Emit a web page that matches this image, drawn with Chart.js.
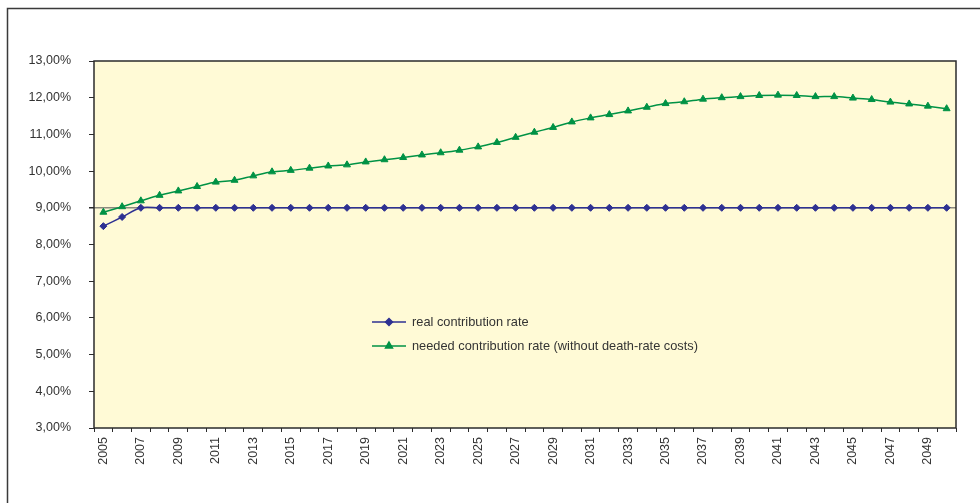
<!DOCTYPE html>
<html>
<head>
<meta charset="utf-8">
<script src="https://cdn.jsdelivr.net/npm/chart.js@4.4.1/dist/chart.umd.min.js"></script>
<style>
  html, body { margin: 0; padding: 0; background: #ffffff; }
  #wrap { position: relative; width: 980px; height: 503px; }
  canvas { display: block; }
</style>
</head>
<body>
<div id="wrap"><canvas id="c" width="980" height="503"></canvas></div>
<script>
// ---- data ----
const years = [2005,2006,2007,2008,2009,2010,2011,2012,2013,2014,2015,2016,2017,2018,2019,2020,2021,2022,2023,2024,2025,2026,2027,2028,2029,2030,2031,2032,2033,2034,2035,2036,2037,2038,2039,2040,2041,2042,2043,2044,2045,2046,2047,2048,2049,2050];
const realRate = [8.50,8.75,9.00,9.00,9.00,9.00,9.00,9.00,9.00,9.00,9.00,9.00,9.00,9.00,9.00,9.00,9.00,9.00,9.00,9.00,9.00,9.00,9.00,9.00,9.00,9.00,9.00,9.00,9.00,9.00,9.00,9.00,9.00,9.00,9.00,9.00,9.00,9.00,9.00,9.00,9.00,9.00,9.00,9.00,9.00,9.00];
const neededRate = [8.88,9.03,9.19,9.34,9.46,9.58,9.70,9.75,9.87,9.98,10.02,10.08,10.14,10.17,10.25,10.31,10.37,10.44,10.50,10.57,10.66,10.78,10.92,11.06,11.19,11.34,11.45,11.54,11.64,11.74,11.84,11.89,11.96,12.00,12.03,12.06,12.07,12.06,12.03,12.03,11.99,11.95,11.88,11.83,11.77,11.70];
const seriesNames = ['real contribution rate', 'needed contribution rate (without death-rate costs)'];
const yTicks = { min: 3, max: 13, step: 1 };
const refLine = 9;

const FONT = '"Liberation Sans", Arial, sans-serif';
const TXT = '#333333';
const BLUE = '#2e3192';
const GREEN = '#009245';

const framePlugin = {
  id: 'frame',
  beforeDraw(chart) {
    const { ctx, chartArea: a } = chart;
    ctx.save();
    ctx.fillStyle = '#fffad6';
    ctx.fillRect(a.left, a.top, a.right - a.left, a.bottom - a.top);
    // outer frame
    ctx.strokeStyle = '#3a3a3a';
    ctx.lineWidth = 1.5;
    ctx.beginPath();
    ctx.moveTo(7.5, 503);
    ctx.lineTo(7.5, 8.5);
    ctx.lineTo(980, 8.5);
    ctx.stroke();
    ctx.restore();
  },
  afterDraw(chart) {
    const { ctx, chartArea: a } = chart;
    ctx.save();
    ctx.strokeStyle = '#2b2b2b';
    ctx.lineWidth = 1.5;
    ctx.strokeRect(a.left, a.top, a.right - a.left, a.bottom - a.top);
    // legend inside the plot
    const rows = [
      { y: 322, color: BLUE, style: 'rectRot', r: 3.5 },
      { y: 346, color: GREEN, style: 'triangle', r: 4 }
    ];
    ctx.font = '12.8px ' + FONT;
    ctx.textBaseline = 'middle';
    ctx.textAlign = 'left';
    rows.forEach((row, i) => {
      ctx.strokeStyle = row.color;
      ctx.lineWidth = 1.5;
      ctx.beginPath();
      ctx.moveTo(372, row.y);
      ctx.lineTo(406, row.y);
      ctx.stroke();
      ctx.fillStyle = row.color;
      ctx.beginPath();
      Chart.helpers.drawPoint(ctx, { pointStyle: row.style, radius: row.r, borderWidth: 1 }, 389, row.y);
      ctx.fillStyle = TXT;
      ctx.fillText(chart.data.datasets[i].label, 412, row.y);
    });
    ctx.restore();
  }
};

new Chart(document.getElementById('c'), {
  type: 'line',
  data: {
    labels: years.map(String),
    datasets: [
      {
        label: seriesNames[0],
        data: realRate,
        borderColor: BLUE,
        backgroundColor: BLUE,
        borderWidth: 1.5,
        pointStyle: 'rectRot',
        pointRadius: 3.5,
        pointBorderWidth: 1,
        tension: 0.3,
        fill: false
      },
      {
        label: seriesNames[1],
        data: neededRate,
        borderColor: GREEN,
        backgroundColor: GREEN,
        borderWidth: 1.5,
        pointStyle: 'triangle',
        pointRadius: 4,
        pointBorderWidth: 1,
        tension: 0.3,
        fill: false
      }
    ]
  },
  options: {
    responsive: false,
    animation: false,
    devicePixelRatio: 1,
    layout: { padding: { left: 0, right: 24, top: 61, bottom: 0 } },
    plugins: { legend: { display: false }, tooltip: { enabled: false } },
    scales: {
      x: {
        offset: true,
        afterFit(s) { s.height = 75; },
        grid: { offset: true, drawOnChartArea: false, tickLength: 4, color: '#2b2b2b', lineWidth: 1 },
        border: { display: false },
        ticks: {
          autoSkip: false,
          maxRotation: 90,
          minRotation: 90,
          padding: 5,
          color: TXT,
          font: { family: FONT, size: 12.5 },
          callback(v, i) { return i % 2 === 0 ? this.getLabelForValue(v) : ''; }
        }
      },
      y: {
        min: yTicks.min,
        max: yTicks.max,
        afterFit(s) { s.width = 94; },
        border: { display: false },
        grid: {
          drawOnChartArea: true,
          tickLength: 5,
          tickColor: '#2b2b2b',
          color: (c) => (c.tick && c.tick.value === refLine) ? '#8c8a7e' : 'rgba(0,0,0,0)',
          lineWidth: (c) => (c.tick && c.tick.value === refLine) ? 1.5 : 1
        },
        ticks: {
          stepSize: yTicks.step,
          padding: 18,
          color: TXT,
          font: { family: FONT, size: 12.5 },
          callback(v) { return v.toFixed(2).replace('.', ',') + '%'; }
        }
      }
    }
  },
  plugins: [framePlugin]
});
</script>
</body>
</html>
